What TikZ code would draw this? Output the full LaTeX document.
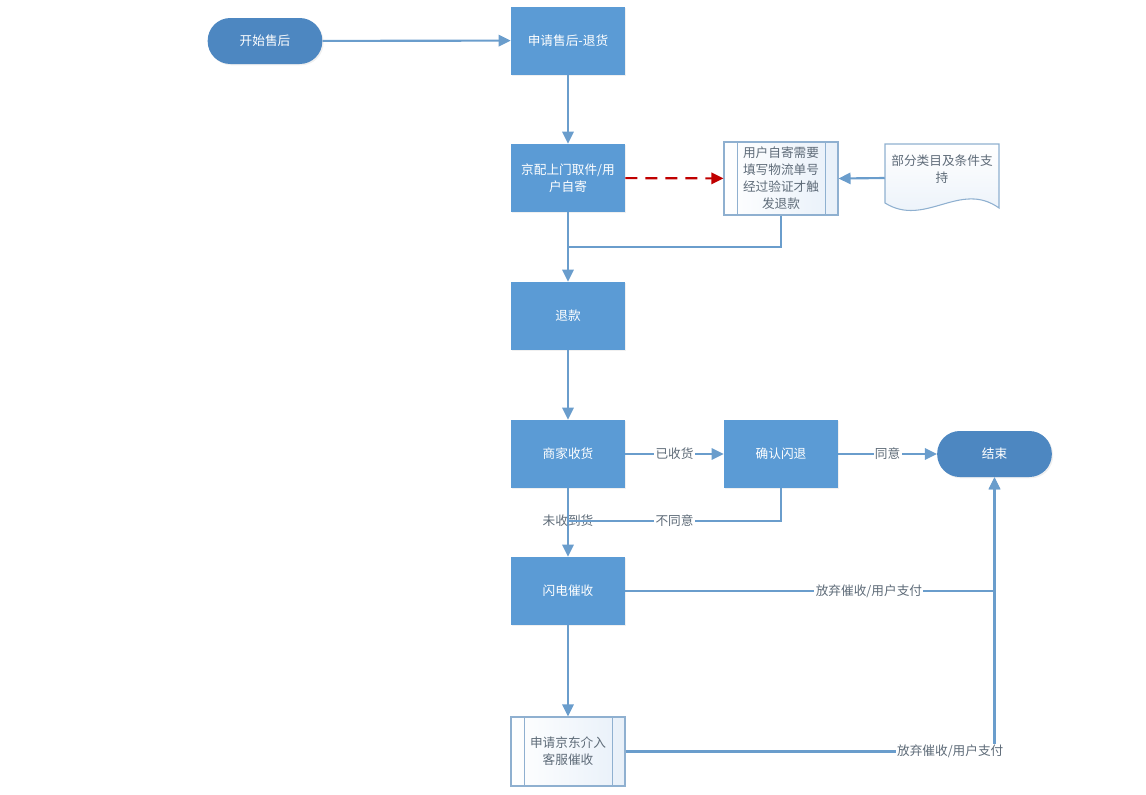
\documentclass[tikz,border=0pt]{standalone}
\usepackage{fontspec}
\setmainfont{Noto Sans CJK SC}
\usetikzlibrary{arrows.meta,shadows}
\definecolor{boxblue}{HTML}{5B9BD5}
\definecolor{termblue}{HTML}{4D87C1}
\definecolor{linecol}{HTML}{6A9DCC}
\definecolor{subborder}{HTML}{8FB0D0}
\definecolor{subfill}{HTML}{E8F0F9}
\definecolor{labgray}{HTML}{5E6B78}
\definecolor{darkred}{HTML}{C00000}
\tikzset{
  every node/.style={font=\fontsize{9.5}{12.75}\selectfont},
  procbox/.style={rectangle, fill=boxblue, text=white, align=center,
    minimum width=85.5pt, minimum height=51pt, inner sep=2pt,
    drop shadow={opacity=0.12, shadow xshift=1pt, shadow yshift=-1pt}},
  termbox/.style={rectangle, rounded corners=17pt, fill=termblue, text=white,
    minimum width=86pt, minimum height=34.5pt,
    drop shadow={opacity=0.12, shadow xshift=1pt, shadow yshift=-1pt}},
  subbox/.style={rectangle, draw=subborder, line width=0.8pt, left color=white, right color=subfill,
    text=labgray, align=center, minimum width=85.5pt, inner sep=1pt},
  conn/.style={draw=linecol, line width=1.6pt, -{Triangle[length=9pt,width=8.5pt]}},
  plainconn/.style={draw=linecol, line width=1.6pt},
  edgelab/.style={fill=white, text=labgray, inner sep=1pt},
}
\begin{document}
\begin{tikzpicture}[x=0.75pt,y=-0.75pt]
\useasboundingbox (0,0) rectangle (1146,794);
% nodes
\node[termbox] (start) at (265,41) {开始售后};
\node[procbox] (apply) at (568,40.5) {申请售后-退货};
\node[procbox] (pick) at (568,178) {京配上门取件/用\\户自寄};
\node[subbox, minimum height=54.75pt] (self) at (781,178.5) {用户自寄需要\\填写物流单号\\经过验证才触\\发退款};
\draw[subborder, line width=0.8pt] ([xshift=10.5pt]self.north west) -- ([xshift=10.5pt]self.south west);
\draw[subborder, line width=0.8pt] ([xshift=-9.75pt]self.north east) -- ([xshift=-9.75pt]self.south east);
% document shape
\node[minimum width=85.5pt, minimum height=51pt, inner sep=0pt] (doc) at (942,178) {};
\coordinate (d1) at (885,144);
\coordinate (d2) at (999,144);
\coordinate (d3) at (999,208);
\coordinate (d4) at (885,203);
\path[draw=subborder, line width=0.8pt, top color=white, bottom color=subfill]
  (d1) -- (d2) -- (d3) .. controls (960,180) and (925,228) .. (d4) -- cycle;
\node[text=labgray, align=center, text width=82pt] (doctext) at (942,169) {部分类目及条件支\\持};
\node[procbox] (refund) at (568,316) {退款};
\node[procbox] (recv) at (568,454) {商家收货};
\node[procbox] (confirm) at (781,454) {确认闪退};
\node[termbox] (finish) at (994.5,454) {结束};
\node[procbox] (urge) at (568,591) {闪电催收};
\node[subbox, minimum height=51.75pt] (jd) at (568,751.5) {申请京东介入\\客服催收};
\draw[subborder, line width=0.8pt] ([xshift=10.5pt]jd.north west) -- ([xshift=10.5pt]jd.south west);
\draw[subborder, line width=0.8pt] ([xshift=-9.75pt]jd.north east) -- ([xshift=-9.75pt]jd.south east);
\coordinate (j1) at (568,247);
\coordinate (j2) at (568,521);
% connectors
\draw[conn] (start) -- (apply);
\draw[conn] (apply) -- (pick);
\draw[darkred, line width=1.6pt, dash pattern=on 9pt off 6pt, -{Triangle[length=9pt,width=8.5pt]}] (pick) -- (self);
\draw[conn] (doc.west) -- (self.east);
\draw[conn] (pick) -- (refund);
\draw[plainconn] (self.south) |- (j1);
\draw[conn] (refund) -- (recv);
\draw[conn] (recv) -- node[edgelab]{已收货} (confirm);
\draw[conn] (confirm) -- node[edgelab]{同意} (finish);
\draw[conn] (recv) -- node[pos=0.48, text=labgray, inner sep=1pt]{未收到货} (urge);
\draw[plainconn] (confirm.south) |- node[pos=0.75, edgelab]{不同意} (j2);
\draw[conn] (urge) -- (jd);
\draw[conn] (urge.east) -| node[pos=0.33, edgelab]{放弃催收/用户支付} (finish.south);
\draw[conn] (jd.east) -| node[pos=0.44, edgelab]{放弃催收/用户支付} (finish.south);
\end{tikzpicture}
\end{document}
